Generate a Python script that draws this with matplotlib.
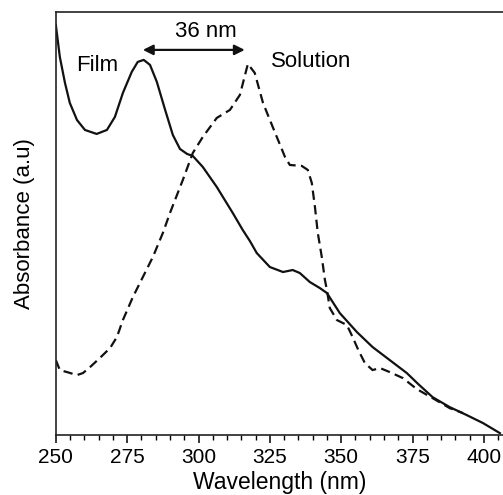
import matplotlib
matplotlib.use("Agg")
import matplotlib.pyplot as plt
from matplotlib.ticker import MultipleLocator

plt.rcParams["font.family"] = ["Liberation Sans", "DejaVu Sans"]

# film spectrum (solid), absorbance in arbitrary units
film_nm = [250.0, 251.4, 253.2, 254.9, 257.4, 260.2, 264.3, 267.9, 270.7, 273.5,
           276.6, 278.7, 280.8, 283.0, 285.4, 288.2, 291.0, 293.5, 296.0, 298.0,
           301.5, 306.4, 312.0, 315.5, 318.0, 320.4, 325.0, 329.6, 333.0, 335.5,
           339.0, 342.5, 345.0, 349.5, 355.5, 361.0, 367.0, 373.0, 377.0, 382.0,
           388.0, 394.0, 399.7, 405.6]
film_abs = [410, 378, 352, 332, 315, 305, 301, 305, 318, 342,
            363, 373, 375, 370, 353, 326, 300, 286, 281, 279,
            268, 248, 222, 205, 194, 182, 168, 163, 165, 162,
            153, 147, 142, 122, 103, 88, 75, 62, 51, 38,
            28, 20, 12, 2]

# solution spectrum (dashed)
sol_nm = [250.0, 251.4, 253.9, 257.4, 259.5, 262.0, 265.4, 269.0, 271.4, 273.5,
          277.0, 280.5, 284.0, 287.5, 290.0, 294.5, 298.0, 301.5, 306.4, 311.0,
          314.5, 317.3, 319.7, 322.6, 326.0, 330.3, 332.0, 336.2, 338.3, 339.7,
          340.8, 341.8, 343.2, 344.3, 345.0, 346.0, 348.5, 352.0, 354.0, 356.0,
          358.3, 361.0, 363.6, 367.0, 371.6, 376.5, 382.0, 388.0, 392.7]
sol_abs = [75, 65, 63, 60, 62, 68, 77, 87, 98, 115,
           138, 158, 178, 202, 222, 255, 282, 298, 317, 325,
           340, 371, 362, 332, 308, 278, 270, 269, 265, 252,
           228, 202, 178, 155, 145, 127, 115, 110, 98, 85,
           72, 65, 67, 63, 57, 46, 37, 27, 22]

fig = plt.figure(figsize=(5.03, 4.95), dpi=100)
ax = fig.add_axes([0.111, 0.121, 0.889, 0.855])

ax.plot(film_nm, film_abs, color="#111111", lw=1.6, solid_joinstyle="round")
ax.plot(sol_nm, sol_abs, color="#111111", lw=1.6, ls=(0, (4.2, 2.4)))

ax.set_xlim(250, 406.7)
ax.set_ylim(0, 423)
ax.spines["right"].set_visible(False)
for s in ["top", "bottom", "left"]:
    ax.spines[s].set_linewidth(1.2)
    ax.spines[s].set_color("#222222")

ax.xaxis.set_major_locator(MultipleLocator(25))
ax.xaxis.set_minor_locator(MultipleLocator(5))
ax.tick_params(axis="x", which="major", direction="out", length=6, width=1.1, labelsize=15, pad=3)
ax.tick_params(axis="x", which="minor", direction="out", length=3.5, width=1.0)
ax.set_yticks([])

ax.set_xlabel("Wavelength (nm)", fontsize=16.5, labelpad=3)
ax.set_ylabel("Absorbance (a.u)", fontsize=16, labelpad=15)

ax.annotate("", xy=(280.5, 385), xytext=(316.2, 385),
            arrowprops=dict(arrowstyle="<|-|>", color="#111111", lw=1.6,
                            mutation_scale=15, shrinkA=0, shrinkB=0))
ax.text(302.6, 403, "36 nm", fontsize=16, ha="center", va="center")
ax.text(264.5, 369, "Film", fontsize=16, ha="center", va="center")
ax.text(339.4, 373, "Solution", fontsize=16, ha="center", va="center")

fig.savefig("out.png", dpi=100)
